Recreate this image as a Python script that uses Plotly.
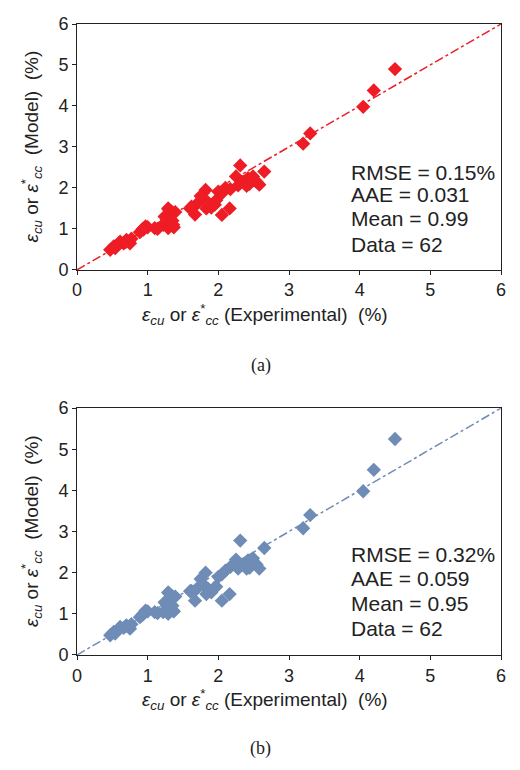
import plotly.graph_objects as go
from plotly.subplots import make_subplots

x_exp = [4.50, 4.20, 4.05, 3.30, 3.20, 2.31, 2.65, 2.25, 2.42, 2.49, 2.54, 2.44, 2.58, 2.28,
         2.17, 2.05, 2.00, 1.82, 2.16, 2.05, 1.95, 1.97, 1.83, 1.78, 1.69, 1.62, 1.67, 1.90,
         1.29, 1.34, 1.24, 1.22, 1.36, 1.29, 1.27, 1.39, 1.30, 1.10, 0.97, 0.89, 0.94, 1.00,
         0.93, 0.70, 0.66, 0.75, 0.61, 0.52, 0.47, 0.54, 0.69, 0.77, 1.14, 1.37, 1.35, 1.75,
         1.85, 2.10, 2.35, 2.50, 1.60, 2.40]
y_model_a = [4.90, 4.38, 3.98, 3.33, 3.08, 2.55, 2.40, 2.28, 2.24, 2.28, 2.15, 2.10, 2.08, 2.06,
             1.97, 1.87, 1.91, 1.95, 1.50, 1.34, 1.59, 1.70, 1.50, 1.75, 1.60, 1.54, 1.35, 1.52,
             1.50, 1.42, 1.30, 1.10, 1.10, 1.02, 1.22, 1.41, 1.47, 1.02, 1.06, 0.92, 0.98, 1.04,
             1.00, 0.73, 0.65, 0.65, 0.69, 0.57, 0.49, 0.53, 0.68, 0.76, 1.00, 1.04, 1.20, 1.80,
             1.65, 2.00, 2.15, 2.20, 1.50, 2.05]
y_model_b = [5.25, 4.50, 3.98, 3.40, 3.08, 2.78, 2.60, 2.32, 2.30, 2.35, 2.20, 2.12, 2.10, 2.10,
             2.14, 1.96, 1.90, 2.00, 1.48, 1.32, 1.64, 1.66, 1.48, 1.72, 1.60, 1.56, 1.32, 1.52,
             1.52, 1.44, 1.28, 1.04, 1.08, 1.00, 1.24, 1.42, 1.50, 1.04, 1.08, 0.92, 1.00, 1.06,
             0.98, 0.72, 0.66, 0.64, 0.68, 0.56, 0.48, 0.52, 0.70, 0.75, 1.02, 1.06, 1.20, 1.85,
             1.62, 2.05, 2.20, 2.25, 1.55, 2.10]
diag = [0, 6]
ticks = [0, 1, 2, 3, 4, 5, 6]
stats_a = ["RMSE = 0.15%", "AAE = 0.031", "Mean = 0.99", "Data = 62"]
stats_b = ["RMSE = 0.32%", "AAE = 0.059", "Mean = 0.95", "Data = 62"]
captions = ["(a)", "(b)"]

RED = "#EE1C25"
BLUE = "#6E8CB5"

OFF = 8  # page body margin
W, H = 520 - 2 * OFF, 770 - 2 * OFF
mt, ml = 16 - OFF, 77 - OFF
mr = W - (506 - OFF)
mb = H - (655 - OFF)
ph = H - mt - mb
pw = W - ml - mr

def ypaper(py):  # py in reference-window pixels
    return (H - mb - (py - OFF)) / ph

def xpaper(px):
    return ((px - OFF) - ml) / pw

fig = make_subplots(rows=2, cols=1)

for row, yv, col in [(1, y_model_a, RED), (2, y_model_b, BLUE)]:
    fig.add_trace(go.Scatter(x=diag, y=diag, mode="lines",
                             line=dict(color=col, width=1.5, dash="dashdot"),
                             showlegend=False, hoverinfo="skip"), row=row, col=1)
    fig.add_trace(go.Scatter(x=x_exp, y=yv, mode="markers",
                             marker=dict(symbol="diamond", size=11, color=col, line=dict(width=0)),
                             showlegend=False), row=row, col=1)

FONT = "Arial, Liberation Sans, sans-serif"
axis_common = dict(range=[0, 6], tickvals=ticks, ticks="outside", ticklen=4, tickcolor="#222",
                   showline=True, linecolor="#222", linewidth=1, mirror=True, showgrid=False,
                   zeroline=False, tickfont=dict(family=FONT, size=18, color="#222"))
fig.update_xaxes(**axis_common)
fig.update_yaxes(**axis_common)
fig.update_layout(
    yaxis=dict(domain=[ypaper(265), 1.0]),
    yaxis2=dict(domain=[0.0, ypaper(405)]),
    xaxis=dict(domain=[0, 1]), xaxis2=dict(domain=[0, 1]),
)

xtitle = "<i>ε</i><sub><i>cu</i></sub> or <i>ε</i><sup>*</sup><sub><i>cc</i></sub> (Experimental)  (%)"
ytitle = "<i>ε</i><sub><i>cu</i></sub> or <i>ε</i><sup>*</sup><sub><i>cc</i></sub>  (Model)  (%)"
font_t = dict(family=FONT, size=19, color="#222")

anns = []
for i, (stats, xr, ystats, top, bot, cap_y, xt_y) in enumerate([
        (stats_a, "x", [166, 189, 213, 239], 16, 265, 362, 310),
        (stats_b, "x2", [553, 578, 603, 628], 405, 655, 750, 700)]):
    for s, py in zip(stats, ystats):
        anns.append(dict(x=3.85, y=ypaper(py), xref=xr, yref="paper", text=s, showarrow=False,
                         xanchor="left", yanchor="middle",
                         font=dict(family=FONT, size=21, color="#222")))
    anns.append(dict(x=xpaper(267), y=ypaper(xt_y), xref="paper", yref="paper", text=xtitle,
                     showarrow=False, xanchor="center", yanchor="middle", font=font_t))
    anns.append(dict(x=xpaper(31), y=ypaper((top + bot) / 2), xref="paper", yref="paper",
                     text=ytitle, textangle=-90, showarrow=False, xanchor="center", yanchor="middle",
                     font=font_t))
    anns.append(dict(x=xpaper(263), y=ypaper(cap_y), xref="paper", yref="paper",
                     text=captions[i], showarrow=False, xanchor="center", yanchor="middle",
                     font=dict(family="Times New Roman, Liberation Serif, serif", size=18, color="#222")))

fig.update_layout(width=W, height=H, margin=dict(l=ml, r=mr, t=mt, b=mb),
                  paper_bgcolor="white", plot_bgcolor="white", annotations=anns)

fig.write_html("out.html")
